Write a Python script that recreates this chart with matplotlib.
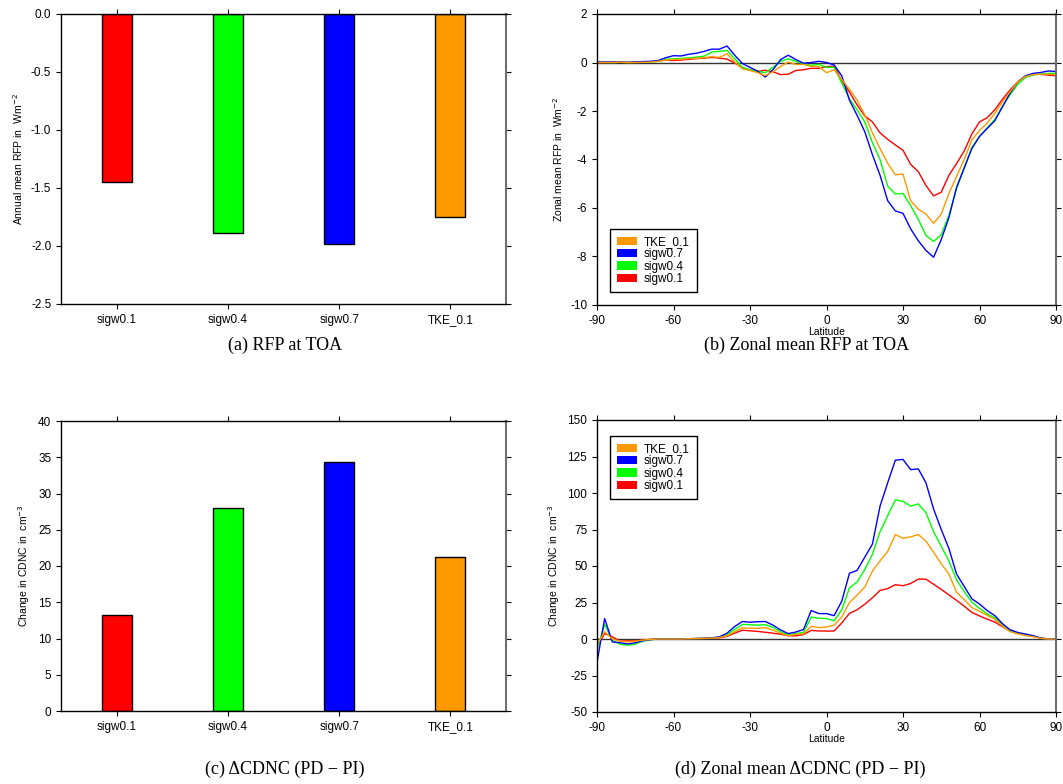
import numpy as np
import matplotlib.pyplot as plt
from matplotlib.patches import Patch

plt.rcParams['font.family'] = ['Liberation Sans', 'DejaVu Sans']
plt.rcParams['axes.unicode_minus'] = False

# runs and colours
runs = ['sigw0.1', 'sigw0.4', 'sigw0.7', 'TKE_0.1']
colors = ['#ff0000', '#00ff00', '#0000ff', '#ff9900']

# global annual means
rfp_mean = [-1.45, -1.89, -1.98, -1.75]
cdnc_mean = [13.2, 28.0, 34.4, 21.2]

# zonal means, every 3 degrees from -90 to 90
lat = np.arange(-90, 91, 3)

rfp_sigw01 = [0.0, 0.0, 0.01, 0.01, 0.0, 0.01, 0.02, 0.03, 0.06, 0.1,
              0.08, 0.1, 0.13, 0.16, 0.18, 0.21, 0.18, 0.14, -0.02, -0.22,
              -0.3, -0.36, -0.32, -0.38, -0.5, -0.48, -0.33, -0.3, -0.24, -0.24,
              -0.17, -0.15, -0.75, -1.22, -1.75, -2.2, -2.45, -2.9, -3.17, -3.4,
              -3.62, -4.2, -4.5, -5.07, -5.5, -5.35, -4.65, -4.17, -3.65, -2.95,
              -2.45, -2.28, -1.95, -1.52, -1.13, -0.8, -0.57, -0.49, -0.49, -0.52,
              -0.55]
rfp_sigw04 = [0.01, 0.01, 0.0, 0.01, 0.0, 0.01, 0.01, 0.02, 0.05, 0.14,
              0.15, 0.17, 0.19, 0.22, 0.26, 0.43, 0.46, 0.5, 0.15, -0.2,
              -0.3, -0.36, -0.42, -0.2, 0.05, 0.15, 0.05, -0.05, -0.12, -0.08,
              -0.2, -0.2, -0.85, -1.5, -1.95, -2.45, -3.3, -4.0, -5.1, -5.42,
              -5.4, -5.9, -6.47, -7.13, -7.38, -7.1, -6.3, -5.2, -4.35, -3.5,
              -3.05, -2.7, -2.35, -1.8, -1.33, -0.9, -0.62, -0.52, -0.46, -0.45,
              -0.44]
rfp_sigw07 = [0.02, 0.02, 0.02, 0.02, 0.01, 0.02, 0.04, 0.05, 0.08, 0.2,
              0.28, 0.27, 0.34, 0.38, 0.46, 0.55, 0.55, 0.68, 0.3, -0.04,
              -0.2, -0.36, -0.6, -0.3, 0.12, 0.3, 0.12, -0.03, 0.0, 0.05,
              0.0, -0.1, -0.55, -1.55, -2.18, -2.85, -3.8, -4.65, -5.7, -6.12,
              -6.22, -6.86, -7.35, -7.75, -8.03, -7.3, -6.4, -5.15, -4.35, -3.55,
              -3.05, -2.72, -2.4, -1.83, -1.26, -0.8, -0.55, -0.45, -0.41, -0.35,
              -0.37]
rfp_tke01 = [0.0, 0.0, 0.0, 0.01, 0.0, 0.0, 0.01, 0.02, 0.05, 0.1,
             0.12, 0.13, 0.16, 0.17, 0.2, 0.24, 0.21, 0.36, 0.02, -0.26,
             -0.33, -0.42, -0.54, -0.38, -0.17, 0.02, -0.08, -0.08, -0.16, -0.17,
             -0.42, -0.3, -0.7, -1.1, -1.55, -2.15, -2.9, -3.55, -4.15, -4.63,
             -4.6, -5.7, -6.05, -6.25, -6.63, -6.25, -5.4, -4.7, -4.0, -3.2,
             -2.8, -2.5, -2.1, -1.62, -1.2, -0.8, -0.58, -0.5, -0.48, -0.48,
             -0.51]

cdnc_sigw01 = [-5, 3.7, 1.5, -1.5, -1.3, -1.3, -0.8, -0.3, 0.0, 0.0,
               0.0, 0.0, 0.2, 0.3, 0.4, 0.5, 0.8, 1.8, 4.0, 6.0,
               5.6, 5.2, 4.6, 4.0, 3.3, 2.2, 2.2, 3.0, 5.9, 5.5,
               5.4, 5.5, 11, 17.5, 20, 23.8, 28.2, 33.3, 34.5, 37.2,
               36.5, 38, 41, 41, 37.5, 34, 30.2, 26.5, 22.5, 18.2,
               15.8, 13.6, 11.6, 8.4, 5.5, 3.9, 2.7, 1.8, 0.6, 0.0,
               0.0]
cdnc_sigw04 = [-7, 10, -1.0, -3.5, -4.3, -3.5, -1.5, -0.5, 0.0, 0.0,
               0.0, 0.0, 0.2, 0.3, 0.5, 0.7, 1.2, 3.0, 6.5, 10,
               9.8, 9.5, 9.8, 8.0, 5.0, 2.8, 3.7, 4.5, 15, 14.2,
               14, 12.5, 20, 35, 39, 47.5, 58, 73.5, 84.5, 95.3,
               94.3, 91, 92.5, 86.5, 73.5, 63.5, 53.5, 40.5, 32.5, 25.3,
               21, 17.2, 14.5, 10, 5.5, 4.0, 3.1, 2.0, 0.6, 0.0,
               0.0]
cdnc_sigw07 = [-16, 14, -2.0, -2.5, -3.4, -2.6, -1.2, -0.4, 0.0, 0.0,
               0.0, 0.0, 0.2, 0.3, 0.5, 0.8, 1.5, 4.0, 8.5, 12.0,
               11.5, 11.8, 12.0, 9.5, 6.2, 3.7, 4.8, 6.5, 19.5, 17.4,
               17.4, 16, 26, 45, 47, 56, 65, 91, 107, 122.5,
               123, 116, 116.5, 107, 89, 75, 62, 44.5, 36, 27.5,
               24, 19.5, 16, 10.5, 6.3, 4.5, 3.4, 2.3, 0.7, 0.0,
               0.0]
cdnc_tke01 = [-4, 5, 0.0, -1.5, -2.0, -1.5, -0.8, -0.3, 0.0, 0.0,
              0.0, 0.0, 0.2, 0.3, 0.4, 0.6, 1.0, 2.2, 5.0, 7.6,
              7.4, 7.3, 7.8, 6.0, 4.0, 2.2, 3.2, 3.5, 8.7, 7.8,
              8.2, 9.5, 15, 25, 30, 35.5, 46.5, 53.5, 60, 71.5,
              69, 70, 71.5, 67, 59.5, 51.5, 44.5, 32, 27, 21.5,
              19, 16.2, 13.5, 8.8, 5.0, 3.5, 2.4, 1.6, 0.5, 0.0,
              0.0]

rfp_zonal = [rfp_sigw01, rfp_sigw04, rfp_sigw07, rfp_tke01]
cdnc_zonal = [cdnc_sigw01, cdnc_sigw04, cdnc_sigw07, cdnc_tke01]

W, H = 1063, 784
fig = plt.figure(figsize=(W / 100, H / 100), dpi=100)


def add_ax(x0, y0, x1, y1):
    return fig.add_axes([x0 / W, 1 - y1 / H, (x1 - x0) / W, (y1 - y0) / H])


def style(ax):
    ax.tick_params(direction='out', length=3.5, width=0.8, labelsize=8.5,
                   top=True, right=True, labeltop=False, labelright=False)
    for s in ['left', 'bottom', 'top']:
        ax.spines[s].set_color('black')
        ax.spines[s].set_linewidth(1.0)
    ax.spines['right'].set_color('#707070')
    ax.spines['right'].set_linewidth(1.5)


def bar_panel(ax, vals, ylim, yticks, ylabel):
    x = np.arange(1, len(runs) + 1)
    ax.bar(x, vals, width=0.27, color=colors, edgecolor='black', linewidth=1.0)
    ax.set_xlim(0.5, 4.5)
    ax.set_xticks(x)
    ax.set_xticklabels(runs)
    ax.set_ylim(*ylim)
    ax.set_yticks(yticks)
    ax.set_ylabel(ylabel, fontsize=7.5)
    style(ax)


def zonal_panel(ax, series, ylim, yticks, ylabel, leg_loc, leg_anchor):
    for vals, c in zip(series, colors):
        ax.plot(lat, vals, color=c, lw=1.0)
    ax.axhline(0, color='#333333', lw=1.0, zorder=1)
    ax.set_xlim(-90, 90)
    ax.set_xticks(np.arange(-90, 91, 30))
    ax.set_ylim(*ylim)
    ax.set_yticks(yticks)
    ax.set_ylabel(ylabel, fontsize=7.5)
    ax.set_xlabel('Latitude', fontsize=7.5, labelpad=0)
    style(ax)
    handles = [Patch(facecolor=c, edgecolor='none') for c in colors[::-1]]
    leg = ax.legend(handles, runs[::-1], loc=leg_loc, bbox_to_anchor=leg_anchor,
                    fontsize=8.5, fancybox=False, edgecolor='black', framealpha=1,
                    handlelength=1.7, handleheight=0.68, labelspacing=0.02,
                    borderpad=0.6, handletextpad=0.6, borderaxespad=0)
    leg.get_frame().set_linewidth(1.0)


ax_a = add_ax(61, 14, 506, 304)
bar_panel(ax_a, rfp_mean, (-2.5, 0), np.arange(-2.5, 0.01, 0.5),
          'Annual mean RFP in  Wm$^{-2}$')
ax_a.set_yticklabels(['%.1f' % v for v in np.arange(-2.5, 0.01, 0.5)])

ax_b = add_ax(597, 14, 1056, 305)
zonal_panel(ax_b, rfp_zonal, (-10, 2), np.arange(-10, 3, 2),
            'Zonal mean RFP in  Wm$^{-2}$', 'lower left', (0.028, 0.045))

ax_c = add_ax(61, 421, 506, 711)
bar_panel(ax_c, cdnc_mean, (0, 40), np.arange(0, 41, 5),
          'Change in CDNC in  cm$^{-3}$')

ax_d = add_ax(597, 420, 1056, 712)
zonal_panel(ax_d, cdnc_zonal, (-50, 150), np.arange(-50, 151, 25),
            'Change in CDNC in  cm$^{-3}$', 'upper left', (0.028, 0.945))

captions = [(285, 345, '(a) RFP at TOA'),
            (807, 345, '(b) Zonal mean RFP at TOA'),
            (285, 769, '(c) \u0394CDNC (PD \u2212 PI)'),
            (800, 769, '(d) Zonal mean \u0394CDNC (PD \u2212 PI)')]
for cx, cy, txt in captions:
    fig.text(cx / W, 1 - cy / H, txt, ha='center', va='center', fontsize=13,
             family=['Liberation Serif', 'DejaVu Serif'])

fig.savefig('out.png', dpi=100)
